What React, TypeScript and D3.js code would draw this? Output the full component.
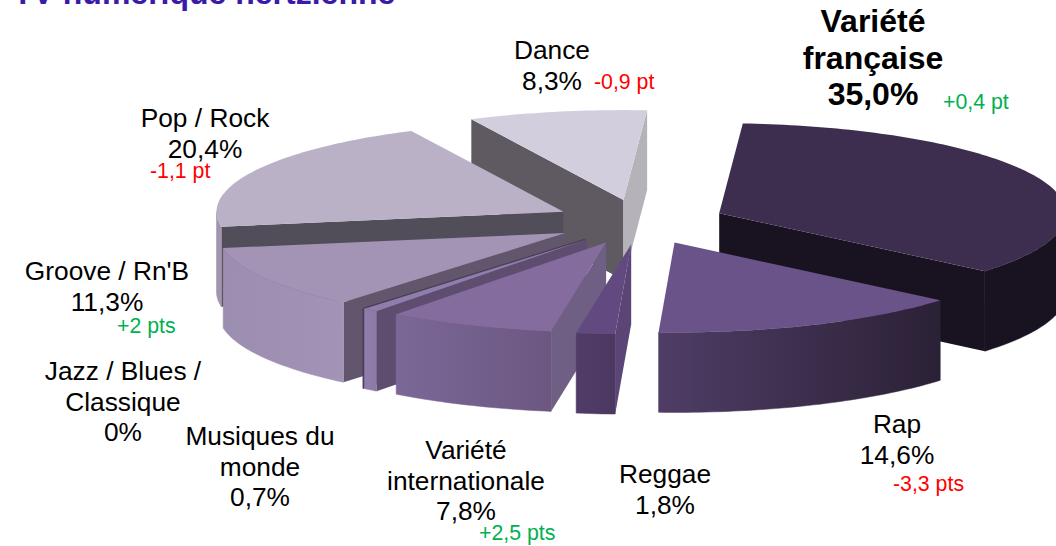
import React from "react";
import * as d3 from "d3";

const categories = ["Variété française", "Rap", "Reggae", "Variété internationale", "Musiques du monde", "Jazz / Blues / Classique", "Groove / Rn'B", "Pop / Rock", "Dance"];
const shares = [35.0, 14.6, 1.8, 7.8, 0.7, 0, 11.3, 20.4, 8.3];
const titleText = "TV numérique hertzienne";

const topColors = ["#3d2e50", "#6a5388", "#624a80", "#846c9e", "#8f7dab", "#5f4d70", "#a393b5", "#bab1c7", "#d3cedd"];
const wallFrom = ["#191321", "#4f3d66", "#503c68", "#7c6898", "#8f7dab", "#5f4d70", "#9c8eb0", "#a091ad", "#b5b2ba"];
const wallTo = ["#191321", "#2b2136", "#4c3860", "#6b5780", "#8b79a6", "#5f4d70", "#a393b6", "#a596b2", "#b5b2ba"];
const startFace = ["#191321", "#2b2136", "#5a4576", "#705f85", "#5f4d70", "#4a3d58", "#62566c", "#514d59", "#5f5a62"];
const endFace = ["#191321", "#4f3d66", "#5a4576", "#705f85", "#5f4d70", "#4a3d58", "#62566c", "#514d59", "#b5b2ba"];

const drawOrder = [8, 0, 7, 6, 5, 4, 3, 2, 1];

type Label = { lines: string[]; x: number; y: number; bold?: boolean };
const labels: Label[] = [
  { lines: ["Variété", "française", "35,0%"], x: 873, y: 32, bold: true },
  { lines: ["Dance", "8,3%"], x: 552, y: 59 },
  { lines: ["Pop / Rock", "20,4%"], x: 205, y: 127 },
  { lines: ["Groove / Rn'B", "11,3%"], x: 107, y: 280 },
  { lines: ["Jazz / Blues /", "Classique", "0%"], x: 123, y: 380 },
  { lines: ["Musiques du", "monde", "0,7%"], x: 260, y: 445 },
  { lines: ["Variété", "internationale", "7,8%"], x: 466, y: 459 },
  { lines: ["Reggae", "1,8%"], x: 665, y: 483 },
  { lines: ["Rap", "14,6%"], x: 897, y: 433 },
];
const deltaTexts = ["+0,4 pt", "-0,9 pt", "-1,1 pt", "+2 pts", "+2,5 pts", "-3,3 pts"];
const deltaColors = ["#00b050", "#ff0000", "#ff0000", "#00b050", "#00b050", "#ff0000"];
const deltaX = [943, 594, 150, 117, 479, 893];
const deltaY = [109, 89, 178, 333, 540, 491];

const W = 1056, H = 546;
const cx = 640, cy = 222, rx = 347, ry = 90, depth = 80, explode = 0.248;
const startAngle = (3.9 * Math.PI) / 180;
const font = "'Liberation Sans', Arial, sans-serif";

const pieData = d3.pie<number>().sort(null).startAngle(startAngle).endAngle(startAngle + 2 * Math.PI)(shares);

const px = d3.scaleLinear().domain([0, 1]).range([0, rx]);
const py = d3.scaleLinear().domain([0, 1]).range([0, ry]);
const polar = (a: number, r: number, ox: number, oy: number, z = 0): [number, number] => [
  ox + px(r * Math.sin(a)),
  oy - py(r * Math.cos(a)) + z,
];
const line = d3.line<[number, number]>();

function arcPts(a0: number, a1: number, ox: number, oy: number, z = 0) {
  const n = Math.max(2, Math.ceil(Math.abs(a1 - a0) / 0.02));
  return d3.range(n + 1).map((i) => polar(a0 + ((a1 - a0) * i) / n, 1, ox, oy, z));
}

function sliceShapes(i: number) {
  const d = pieData[i];
  const a0 = d.startAngle, a1 = d.endAngle;
  const mid = (a0 + a1) / 2;
  const [ax, ay] = polar(mid, explode, cx, cy);
  const apex: [number, number] = [ax, ay];
  const apexLow: [number, number] = [ax, ay + depth];
  const top = line([apex, ...arcPts(a0, a1, ax, ay)]) + "Z";
  const faces: { d: string; fill: string }[] = [];
  if (Math.sin(a0) < 0) {
    faces.push({ d: line([apex, polar(a0, 1, ax, ay), polar(a0, 1, ax, ay, depth), apexLow]) + "Z", fill: startFace[i] });
  }
  if (Math.sin(a1) > 0) {
    faces.push({ d: line([apex, polar(a1, 1, ax, ay), polar(a1, 1, ax, ay, depth), apexLow]) + "Z", fill: endFace[i] });
  }
  const walls: string[] = [];
  // outer wall: only the part of the rim turned toward the viewer
  const w0 = Math.max(a0, Math.PI / 2), w1 = Math.min(a1, (3 * Math.PI) / 2);
  if (w1 > w0) {
    const upper = arcPts(w0, w1, ax, ay);
    const lower = arcPts(w1, w0, ax, ay, depth);
    walls.push(line([...upper, ...lower]) + "Z");
  }
  return { top, faces, walls };
}

export default function App() {
  return (
    <svg width={W} height={H} viewBox={`0 0 ${W} ${H}`} style={{ position: "absolute", left: 0, top: 0, background: "#fff" }} fontFamily={font}>
      <defs>
        {categories.map((_, i) => (
          <linearGradient key={i} id={`wall${i}`} x1="0" x2="1" y1="0" y2="0">
            <stop offset="0" stopColor={wallFrom[i]} />
            <stop offset="1" stopColor={wallTo[i]} />
          </linearGradient>
        ))}
      </defs>
      <text x={13} y={3.5} fontSize={32} fontWeight="bold" fill="#3a1aa8">{titleText}</text>
      {drawOrder.map((i) => {
        const s = sliceShapes(i);
        return (
          <g key={i}>
            {s.faces.map((f, k) => (
              <path key={k} d={f.d} fill={f.fill} stroke={shares[i] === 0 ? f.fill : "none"} strokeWidth={shares[i] === 0 ? 1 : 0} />
            ))}
            {s.walls.map((w, k) => (
              <path key={k} d={w} fill={`url(#wall${i})`} stroke={`url(#wall${i})`} strokeWidth={0.5} />
            ))}
            {shares[i] > 0 && <path d={s.top} fill={topColors[i]} />}
          </g>
        );
      })}
      {labels.map((l, i) => (
        <text key={i} textAnchor="middle" fontSize={l.bold ? 32 : 26.3} fontWeight={l.bold ? "bold" : "normal"} fill="#000">
          {l.lines.map((t, j) => (
            <tspan key={j} x={l.x} y={l.y + j * (l.bold ? 36.5 : 30.7)}>{t}</tspan>
          ))}
        </text>
      ))}
      {deltaTexts.map((t, i) => (
        <text key={i} x={deltaX[i]} y={deltaY[i]} fontSize={21.3} fill={deltaColors[i]}>{t}</text>
      ))}
    </svg>
  );
}
